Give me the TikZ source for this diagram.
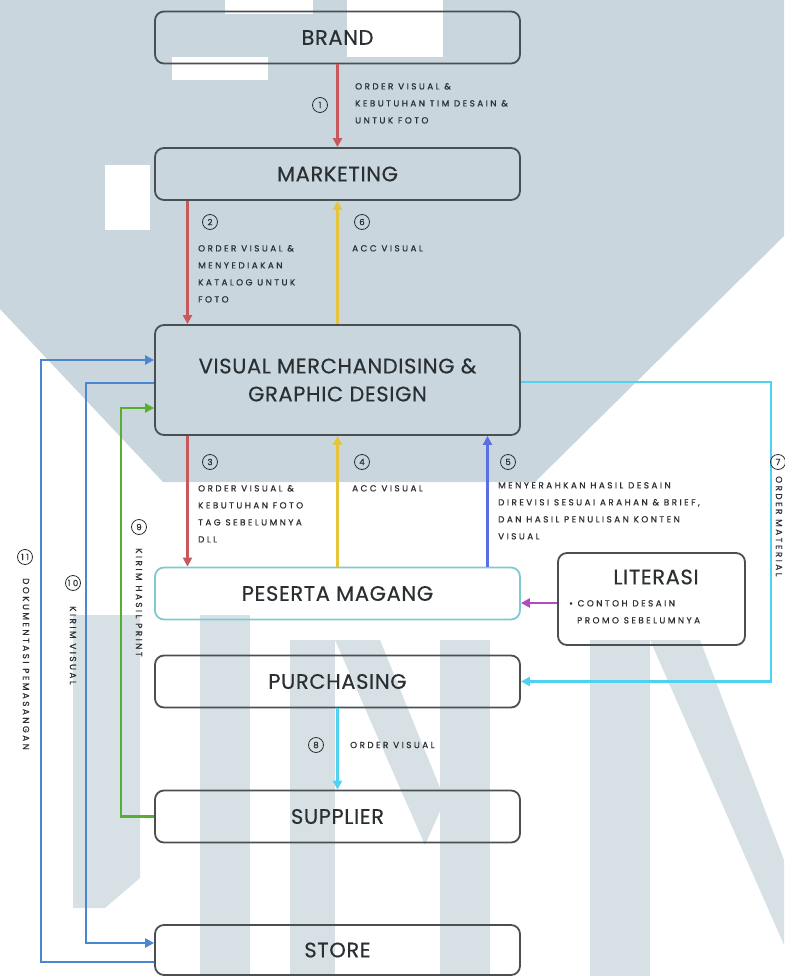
\documentclass[tikz,border=0pt]{standalone}
\usepackage{fontspec}
\setmainfont{Poppins}
\newfontfamily\lblfont{Poppins}[LetterSpace=28, FakeBold=0.8]
\newfontfamily\boxfont{Poppins}[LetterSpace=3, FakeBold=0.4]
\usetikzlibrary{arrows.meta,calc}
\definecolor{wm}{HTML}{C9D6DD}
\definecolor{wmlight}{HTML}{D6E0E5}
\definecolor{boxline}{HTML}{4A4F52}
\definecolor{txt}{HTML}{2A2F32}
\definecolor{cred}{HTML}{C8585C}
\definecolor{cyel}{HTML}{E6C53C}
\definecolor{cblue}{HTML}{5A6EE6}
\definecolor{ccyan}{HTML}{4FD2F2}
\definecolor{cgreen}{HTML}{58AE2E}
\definecolor{csky}{HTML}{4A86D2}
\definecolor{cmag}{HTML}{B04CC0}
\definecolor{cteal}{HTML}{7CCAD2}
\begin{document}
\begin{tikzpicture}[x=1pt,y=-1pt,
  box/.style={draw=boxline, line width=1.8pt, rounded corners=9pt, minimum width=365pt, minimum height=52pt, inner sep=0pt, font=\boxfont\fontsize{21}{28}\selectfont, text=txt, align=center},
  lbl/.style={font=\lblfont\fontsize{8.8}{17}\selectfont, align=left, anchor=north west, inner sep=0pt, text=txt},
  num/.style={circle, draw=txt, line width=0.8pt, inner sep=0pt, minimum size=15pt, font=\lblfont\fontsize{8.5}{9}\selectfont, text=txt},
  conn/.style={line width=2.2pt, -{Triangle[length=9pt,width=9pt]}}]
\useasboundingbox (0,0) rectangle (784,976);
% watermark
\fill[wm] (0,0) -- (784,0) -- (784,236) -- (535,482) -- (163,482) -- (0,309) -- cycle;
\fill[white] (225,0) rectangle (313,14);
\fill[white] (347,0) rectangle (443,57);
\fill[white] (172,57) rectangle (268,80);
\fill[white] (105,165) rectangle (150,230);
\fill[wmlight] (73,615) -- (140,615) -- (140,878) -- (105,908) -- (73,908) -- cycle;
\fill[wmlight] (200,615) rectangle (250,976);
\fill[wmlight] (290,640) rectangle (335,976);
\fill[wmlight] (335,640) -- (380,640) -- (445,800) -- (425,845) -- cycle;
\fill[wmlight] (440,640) rectangle (490,976);
\fill[wmlight] (590,640) rectangle (650,976);
\fill[wmlight] (650,640) -- (700,640) -- (784,860) -- (784,945) -- cycle;
% boxes
\node[box] (brand) at (337.5,37.5) {BRAND};
\node[box] (mkt) at (337.5,174) {MARKETING};
\node[box, minimum height=110pt] (vm) at (337.5,380) {VISUAL MERCHANDISING \&\\GRAPHIC DESIGN};
\node[box, draw=cteal] (pm) at (337.5,593.5) {PESERTA MAGANG};
\node[box] (pur) at (337.5,681.5) {PURCHASING};
\node[box] (sup) at (337.5,816.5) {SUPPLIER};
\node[box, minimum height=50pt] (store) at (337.5,950) {STORE};
\node[box, minimum width=187pt, minimum height=92pt] (lit) at (651.5,599) {};
\node[font=\boxfont\fontsize{21}{24}\selectfont, text=txt, inner sep=0pt] (littitle) at (656,577) {LITERASI};
\node[lbl] (littext) at (569,600) {• CONTOH DESAIN\\\hspace*{8pt}PROMO SEBELUMNYA};
% connectors
\draw[conn, cred] (brand.south) -- (mkt.north);
\draw[conn, cred] ([xshift=-150pt]mkt.south) -- ([xshift=-150pt]vm.north);
\draw[conn, cyel] (vm.north) -- (mkt.south);
\draw[conn, cred] ([xshift=-150pt]vm.south) -- ([xshift=-150pt]pm.north);
\draw[conn, cyel] (pm.north) -- (vm.south);
\draw[conn, cblue] ([xshift=150pt]pm.north) -- ([xshift=150pt]vm.south);
\draw[conn, ccyan] ([yshift=-2pt]vm.east) -- ++(250,0) |- (pur.east);
\draw[conn, cmag] ([yshift=-4pt]lit.west) -- ([yshift=-4pt]lit.west -| pm.east);
\draw[conn, ccyan] (pur.south) -- (sup.north);
\draw[conn, cgreen] (sup.west) -- ++(-33,0) |- ([yshift=-28pt]vm.west);
\draw[conn, csky] ([yshift=-12pt]store.west) -- ++(-113,0) |- ([yshift=20pt]vm.west);
\draw[conn, csky] ([yshift=-3pt]vm.west) -- ++(-68,0) |- ([yshift=7pt]store.west);
% labels
\node[num] (n1) at (320,105) {1};
\node[lbl] (t1) at (355,83) {ORDER VISUAL \&\\KEBUTUHAN TIM DESAIN \&\\UNTUK FOTO};
\node[num] (n2) at (210,222) {2};
\node[lbl] (t2) at (198,245) {ORDER VISUAL \&\\MENYEDIAKAN\\KATALOG UNTUK\\FOTO};
\node[num] (n6) at (362,222) {6};
\node[lbl] (t6) at (352,245) {ACC VISUAL};
\node[num] (n3) at (210,462) {3};
\node[lbl] (t3) at (198,485) {ORDER VISUAL \&\\KEBUTUHAN FOTO\\TAG SEBELUMNYA\\DLL};
\node[num] (n4) at (362,462) {4};
\node[lbl] (t4) at (352,485) {ACC VISUAL};
\node[num] (n5) at (508,462) {5};
\node[lbl] (t5) at (498,482) {MENYERAHKAN HASIL DESAIN\\DIREVISI SESUAI ARAHAN \& BRIEF,\\DAN HASIL PENULISAN KONTEN\\VISUAL};
\node[num] (n8) at (316,745) {8};
\node[lbl, anchor=west] (t8) at (350,745) {ORDER VISUAL};
\node[num] (n7) at (778,462) {7};
\node[lbl, anchor=west, rotate=-90] (t7) at (779,476) {ORDER MATERIAL};
\node[num] (n9) at (139,527) {9};
\node[lbl, anchor=west, rotate=-90] (t9) at (139,548) {KIRIM HASIL PRINT};
\node[num] (n10) at (73,583) {10};
\node[lbl, anchor=west, rotate=-90] (t10) at (73,606) {KIRIM VISUAL};
\node[num] (n11) at (25,557) {11};
\node[lbl, anchor=west, rotate=-90] (t11) at (26,578) {DOKUMENTASI PEMASANGAN};
\end{tikzpicture}
\end{document}
